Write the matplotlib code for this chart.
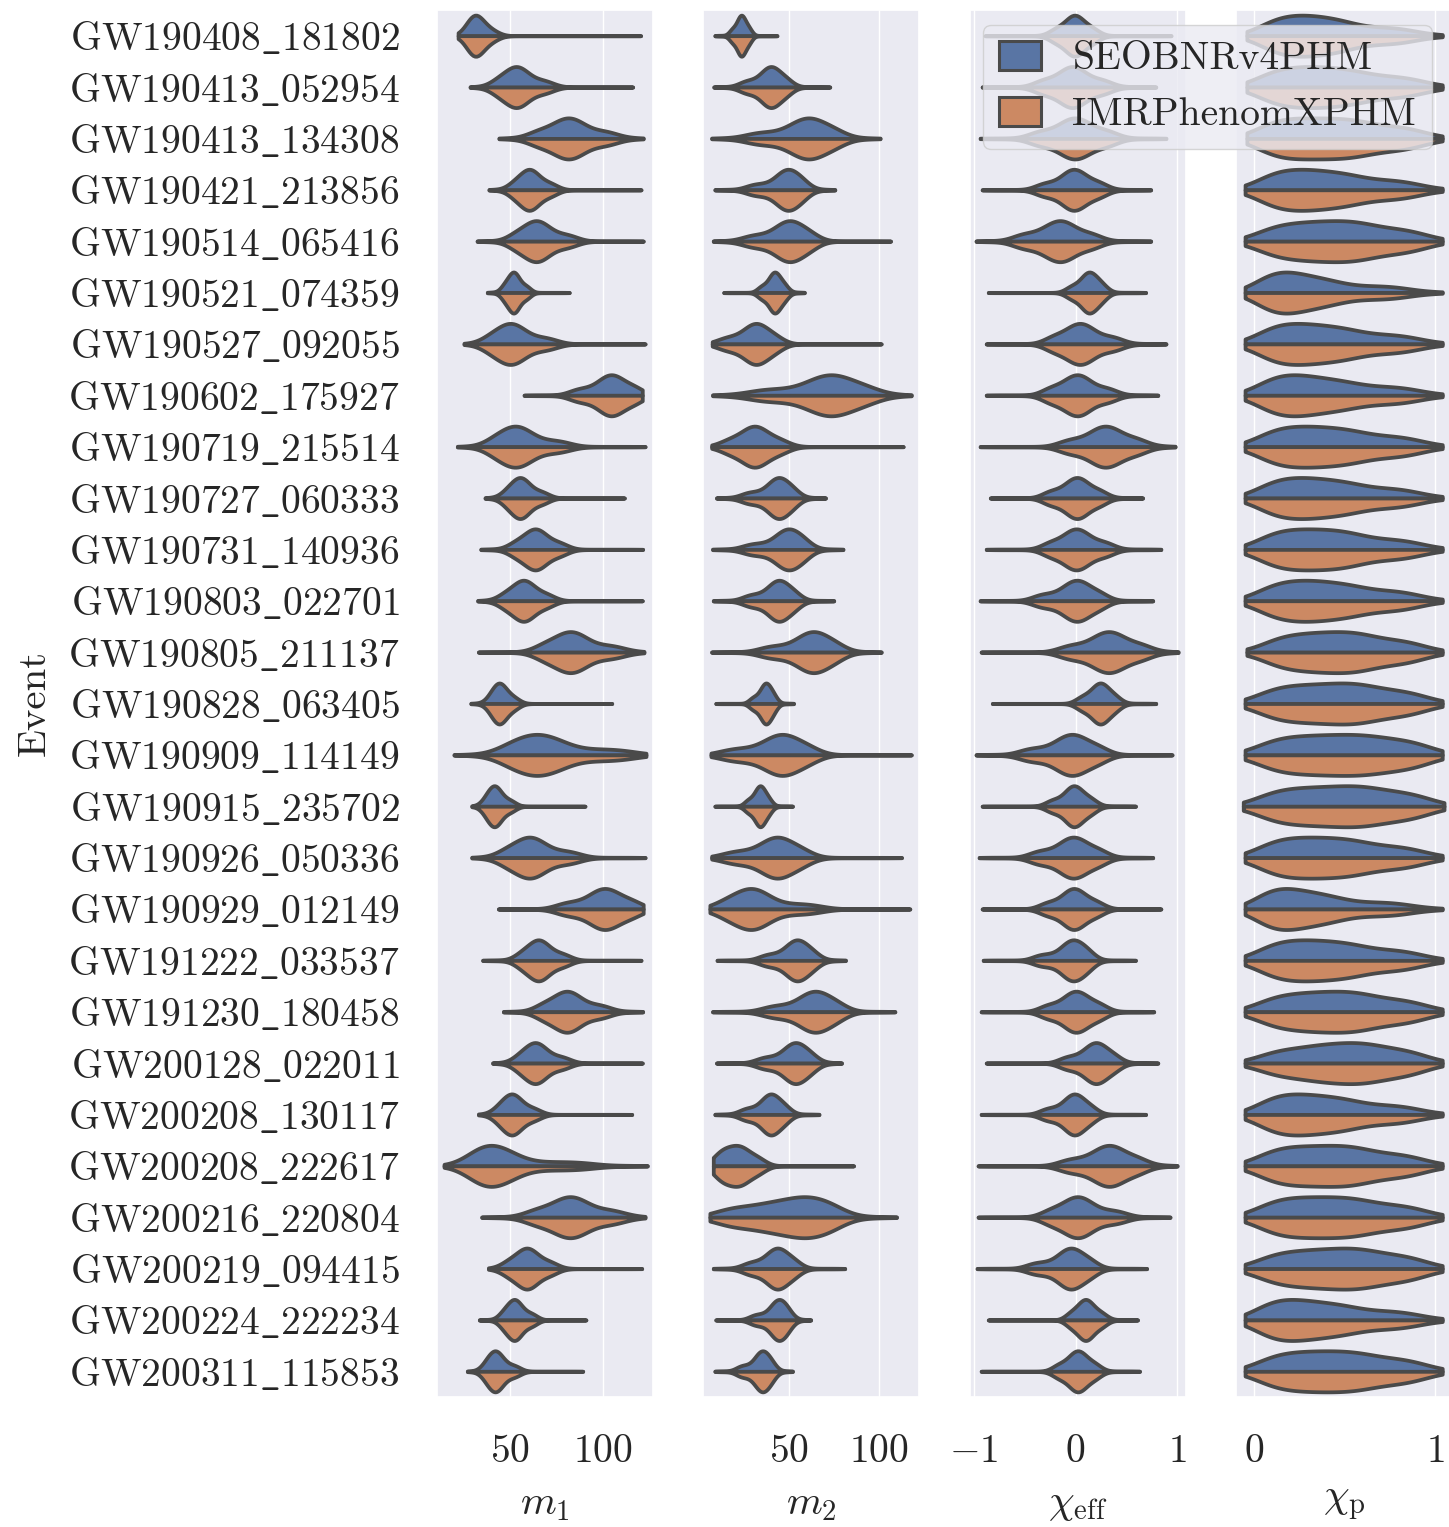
import numpy as np
import pandas as pd
import matplotlib
matplotlib.use("Agg")
import matplotlib.pyplot as plt
from matplotlib.patches import Patch
import seaborn as sns

# ------------------------------------------------------------
#  Posterior summaries: quantiles at the levels below, per event
# ------------------------------------------------------------
events = [
    "GW190408_181802", "GW190413_052954", "GW190413_134308", "GW190421_213856",
    "GW190514_065416", "GW190521_074359", "GW190527_092055", "GW190602_175927",
    "GW190719_215514", "GW190727_060333", "GW190731_140936", "GW190803_022701",
    "GW190805_211137", "GW190828_063405", "GW190909_114149", "GW190915_235702",
    "GW190926_050336", "GW190929_012149", "GW191222_033537", "GW191230_180458",
    "GW200128_022011", "GW200208_130117", "GW200208_222617", "GW200216_220804",
    "GW200219_094415", "GW200224_222234", "GW200311_115853",
]
approximants = ["SEOBNRv4PHM", "IMRPhenomXPHM"]
levels = [0.0, 0.02, 0.25, 0.5, 0.75, 0.98, 1.0]

m1_q = [
    [21.9, 26.6, 29.8, 31.8, 34.6, 42.8, 120.6],
    [28.4, 40.8, 49.5, 54.0, 59.2, 73.2, 116.3],
    [44.0, 60.8, 75.2, 82.0, 89.3, 107.6, 122.0],
    [38.6, 50.0, 57.2, 60.8, 64.8, 75.2, 120.8],
    [32.2, 50.0, 59.8, 64.8, 70.6, 86.0, 122.0],
    [37.7, 45.5, 49.9, 52.1, 54.5, 60.8, 82.0],
    [25.1, 36.5, 46.0, 51.2, 57.6, 75.2, 123.0],
    [57.6, 82.4, 98.1, 104.2, 109.5, 120.3, 121.5],
    [21.5, 38.3, 48.4, 54.2, 61.6, 82.4, 123.0],
    [36.5, 46.4, 52.7, 56.0, 60.0, 70.7, 111.8],
    [34.2, 50.0, 59.5, 63.9, 68.6, 80.6, 121.7],
    [32.5, 44.6, 53.4, 57.6, 62.1, 73.4, 121.5],
    [32.9, 64.4, 77.0, 83.5, 91.0, 111.2, 122.4],
    [28.8, 38.3, 42.4, 44.6, 47.3, 54.5, 105.0],
    [19.7, 45.5, 58.7, 67.6, 79.6, 114.9, 123.5],
    [29.3, 35.6, 39.7, 42.0, 44.8, 52.7, 90.5],
    [29.3, 44.6, 55.6, 61.5, 68.6, 87.8, 123.0],
    [43.7, 75.2, 93.5, 100.6, 106.8, 119.4, 122.0],
    [35.2, 53.6, 61.8, 65.8, 70.4, 82.4, 120.8],
    [46.4, 64.4, 75.7, 81.3, 87.6, 104.0, 121.7],
    [40.6, 52.7, 60.3, 64.3, 69.2, 82.4, 121.5],
    [32.9, 41.9, 48.2, 51.5, 55.5, 66.2, 115.8],
    [14.3, 28.4, 36.0, 42.8, 53.2, 95.0, 124.2],
    [34.7, 59.0, 75.4, 82.9, 91.0, 111.2, 123.0],
    [38.3, 46.4, 55.2, 59.4, 63.9, 75.2, 121.2],
    [33.4, 44.6, 49.9, 52.7, 55.9, 64.4, 91.0],
    [26.9, 35.6, 40.0, 42.6, 45.9, 55.4, 89.3],
]

m2_q = [
    [8.8, 17.0, 21.6, 23.4, 25.2, 29.0, 43.2],
    [8.2, 22.5, 34.8, 39.4, 43.3, 51.0, 72.5],
    [7.0, 26.2, 50.6, 59.4, 66.5, 79.3, 100.4],
    [8.8, 26.2, 42.6, 48.3, 52.7, 60.0, 75.3],
    [7.9, 24.4, 42.7, 49.3, 54.8, 64.7, 106.2],
    [13.7, 32.6, 39.3, 41.8, 44.2, 49.0, 58.4],
    [7.3, 11.5, 25.6, 31.1, 35.8, 45.4, 101.0],
    [7.5, 28.0, 60.0, 71.5, 80.5, 97.6, 117.7],
    [7.0, 13.4, 25.6, 30.9, 36.3, 49.0, 113.2],
    [9.7, 23.5, 38.2, 43.4, 47.5, 54.6, 70.1],
    [7.5, 24.4, 42.3, 48.5, 53.3, 61.0, 79.8],
    [7.9, 24.4, 38.5, 43.6, 47.8, 55.5, 74.7],
    [7.0, 33.5, 54.6, 62.2, 68.4, 79.3, 101.0],
    [9.3, 28.0, 34.4, 36.8, 38.9, 42.7, 52.4],
    [6.6, 13.4, 36.4, 44.9, 51.8, 64.7, 117.7],
    [8.8, 25.3, 31.3, 33.7, 35.7, 40.0, 51.8],
    [7.0, 14.3, 34.8, 42.4, 48.8, 61.0, 112.3],
    [6.0, 11.5, 23.8, 30.3, 38.1, 68.0, 116.9],
    [10.0, 33.5, 48.3, 53.6, 57.9, 65.6, 81.2],
    [7.5, 35.3, 55.9, 63.3, 69.4, 80.2, 108.6],
    [9.7, 31.7, 47.1, 52.6, 57.0, 64.7, 79.0],
    [8.8, 22.5, 34.8, 39.3, 43.0, 50.0, 66.5],
    [7.9, 8.8, 15.0, 21.0, 26.0, 36.0, 85.7],
    [6.0, 11.5, 35.0, 52.0, 64.0, 78.0, 109.5],
    [7.9, 24.4, 37.8, 42.9, 47.2, 55.5, 80.8],
    [9.3, 28.0, 39.6, 43.5, 46.5, 51.0, 61.9],
    [8.8, 20.7, 30.9, 34.5, 37.3, 41.8, 51.8],
]

chi_eff_q = [
    [-0.89, -0.25, -0.08, -0.01, 0.06, 0.22, 0.94],
    [-0.92, -0.40, -0.14, -0.03, 0.08, 0.35, 0.79],
    [-0.94, -0.45, -0.14, -0.01, 0.12, 0.40, 0.89],
    [-0.92, -0.39, -0.12, -0.02, 0.08, 0.30, 0.74],
    [-0.98, -0.61, -0.30, -0.16, -0.04, 0.24, 0.74],
    [-0.86, -0.09, 0.07, 0.13, 0.19, 0.30, 0.69],
    [-0.88, -0.29, -0.06, 0.05, 0.17, 0.46, 0.89],
    [-0.88, -0.32, -0.09, 0.02, 0.13, 0.40, 0.81],
    [-0.94, -0.16, 0.16, 0.29, 0.42, 0.69, 0.98],
    [-0.84, -0.32, -0.09, 0.01, 0.10, 0.30, 0.66],
    [-0.88, -0.32, -0.09, 0.01, 0.12, 0.37, 0.84],
    [-0.94, -0.42, -0.12, 0.00, 0.10, 0.30, 0.76],
    [-0.93, -0.16, 0.18, 0.32, 0.45, 0.73, 1.01],
    [-0.82, 0.01, 0.17, 0.24, 0.30, 0.43, 0.79],
    [-0.98, -0.55, -0.19, -0.05, 0.07, 0.30, 0.95],
    [-0.92, -0.29, -0.09, -0.02, 0.05, 0.20, 0.59],
    [-0.95, -0.45, -0.15, -0.03, 0.08, 0.30, 0.76],
    [-0.92, -0.35, -0.11, -0.02, 0.07, 0.27, 0.84],
    [-0.91, -0.42, -0.14, -0.04, 0.04, 0.17, 0.59],
    [-0.93, -0.35, -0.10, 0.00, 0.10, 0.30, 0.77],
    [-0.88, -0.16, 0.09, 0.19, 0.27, 0.43, 0.81],
    [-0.93, -0.35, -0.11, -0.02, 0.05, 0.20, 0.69],
    [-0.96, -0.16, 0.18, 0.32, 0.44, 0.69, 1.00],
    [-0.96, -0.32, -0.08, 0.03, 0.16, 0.50, 0.93],
    [-0.97, -0.48, -0.17, -0.06, 0.03, 0.20, 0.70],
    [-0.86, -0.09, 0.04, 0.10, 0.16, 0.30, 0.61],
    [-0.93, -0.22, -0.05, 0.02, 0.09, 0.24, 0.63],
]

chi_p_q = [
    [-0.04, 0.05, 0.20, 0.35, 0.53, 0.88, 1.04],
    [-0.04, 0.04, 0.22, 0.40, 0.60, 0.92, 1.04],
    [-0.04, 0.04, 0.22, 0.42, 0.62, 0.92, 1.04],
    [-0.05, 0.04, 0.20, 0.37, 0.57, 0.90, 1.04],
    [-0.05, 0.04, 0.25, 0.45, 0.64, 0.93, 1.04],
    [-0.05, 0.03, 0.14, 0.27, 0.46, 0.85, 1.04],
    [-0.05, 0.04, 0.19, 0.36, 0.56, 0.90, 1.04],
    [-0.05, 0.04, 0.18, 0.34, 0.55, 0.90, 1.04],
    [-0.05, 0.04, 0.21, 0.39, 0.59, 0.91, 1.04],
    [-0.05, 0.04, 0.20, 0.37, 0.57, 0.90, 1.04],
    [-0.05, 0.04, 0.21, 0.39, 0.58, 0.91, 1.04],
    [-0.05, 0.04, 0.21, 0.38, 0.58, 0.90, 1.04],
    [-0.04, 0.07, 0.27, 0.46, 0.64, 0.92, 1.04],
    [-0.05, 0.04, 0.25, 0.46, 0.65, 0.93, 1.04],
    [-0.05, 0.04, 0.26, 0.48, 0.69, 0.95, 1.04],
    [-0.06, 0.04, 0.26, 0.48, 0.68, 0.95, 1.05],
    [-0.05, 0.04, 0.22, 0.41, 0.61, 0.92, 1.04],
    [-0.05, 0.03, 0.14, 0.28, 0.47, 0.86, 1.04],
    [-0.05, 0.04, 0.21, 0.39, 0.59, 0.91, 1.04],
    [-0.05, 0.04, 0.25, 0.45, 0.64, 0.93, 1.04],
    [-0.05, 0.05, 0.30, 0.50, 0.68, 0.93, 1.04],
    [-0.05, 0.04, 0.19, 0.36, 0.56, 0.90, 1.04],
    [-0.05, 0.04, 0.23, 0.43, 0.62, 0.92, 1.04],
    [-0.05, 0.04, 0.23, 0.43, 0.63, 0.93, 1.04],
    [-0.05, 0.04, 0.26, 0.47, 0.66, 0.93, 1.04],
    [-0.05, 0.03, 0.17, 0.34, 0.55, 0.90, 1.04],
    [-0.05, 0.04, 0.24, 0.44, 0.64, 0.93, 1.04],
]

# table, axis label, x range, ticks, KDE bandwidth factor
panels = [
    (m1_q, r"$m_1$", (10.5, 127.3), [50, 100], 2.0),
    (m2_q, r"$m_2$", (2.2, 122.0), [50, 100], 2.0),
    (chi_eff_q, r"$\chi_{\rm eff}$", (-1.04, 1.088), [-1, 0, 1], 1.8),
    (chi_p_q, r"$\chi_{\rm p}$", (-0.1, 1.094), [0, 1], 1.8),
]


def quantile_samples(q, n=2000):
    # evenly spaced draws through the piecewise-linear inverse CDF
    return np.interp(np.linspace(0.0, 1.0, n), levels, q)


def long_frame(table):
    rows = []
    for ev, q in zip(events, table):
        vals = quantile_samples(q)
        for apx in approximants:
            rows.append(pd.DataFrame({"event": ev, "approximant": apx, "value": vals}))
    return pd.concat(rows, ignore_index=True)


# ============================================================
#  Style
# ============================================================
sns.set_theme(style="darkgrid")
plt.rcParams.update({
    "font.family": "serif",
    "font.serif": ["cmr10", "DejaVu Serif"],
    "mathtext.fontset": "cm",
    "axes.formatter.use_mathtext": True,
    "axes.unicode_minus": True,
})
FS = 28.5
colors = sns.color_palette("deep", 2, desat=0.75)
edge = "#4a4a4a"

fig = plt.figure(figsize=(14.49, 15.27), dpi=100)
lefts = [437, 703, 970, 1236]
W, H = 1449.0, 1527.0

for i, (table, xlabel, xlim, xticks, bw) in enumerate(panels):
    ax = fig.add_axes([lefts[i] / W, 1 - 1397 / H, 216 / W, 1387 / H])
    df = long_frame(table)
    sns.violinplot(data=df, x="value", y="event", hue="approximant",
                   order=events, hue_order=approximants, split=True,
                   inner=None, cut=0, density_norm="width", width=0.8,
                   bw_adjust=bw, palette=colors, saturation=1, linewidth=2.7,
                   linecolor=edge, legend=False, orient="h", ax=ax)
    ax.set_xlim(*xlim)
    ax.set_ylim(len(events) - 0.5, -0.5)
    ax.set_xticks(xticks)
    ax.tick_params(axis="x", labelsize=FS, pad=21)
    ax.set_xlabel(xlabel, fontsize=FS + 1, labelpad=12)
    ax.set_yticks(range(len(events)))
    if i == 0:
        ax.set_yticklabels([r"$\mathrm{%s}$" % e.replace("_", r"\_") for e in events])
        ax.tick_params(axis="y", labelsize=FS, pad=21)
        ax.set_ylabel("Event", fontsize=FS + 1, labelpad=11)
    else:
        ax.set_yticklabels([])
        ax.tick_params(axis="y", length=0)
        ax.set_ylabel("")
    ax.grid(False, axis="y")

handles = [Patch(facecolor=c, edgecolor=edge, linewidth=2.2) for c in colors]
fig.legend(handles, approximants, loc="upper right",
           bbox_to_anchor=(1432 / W, 1 - 25 / H), borderaxespad=0,
           fontsize=FS, handlelength=1.05, handleheight=0.75, handletextpad=0.8)

fig.savefig("out.png", dpi=100)
